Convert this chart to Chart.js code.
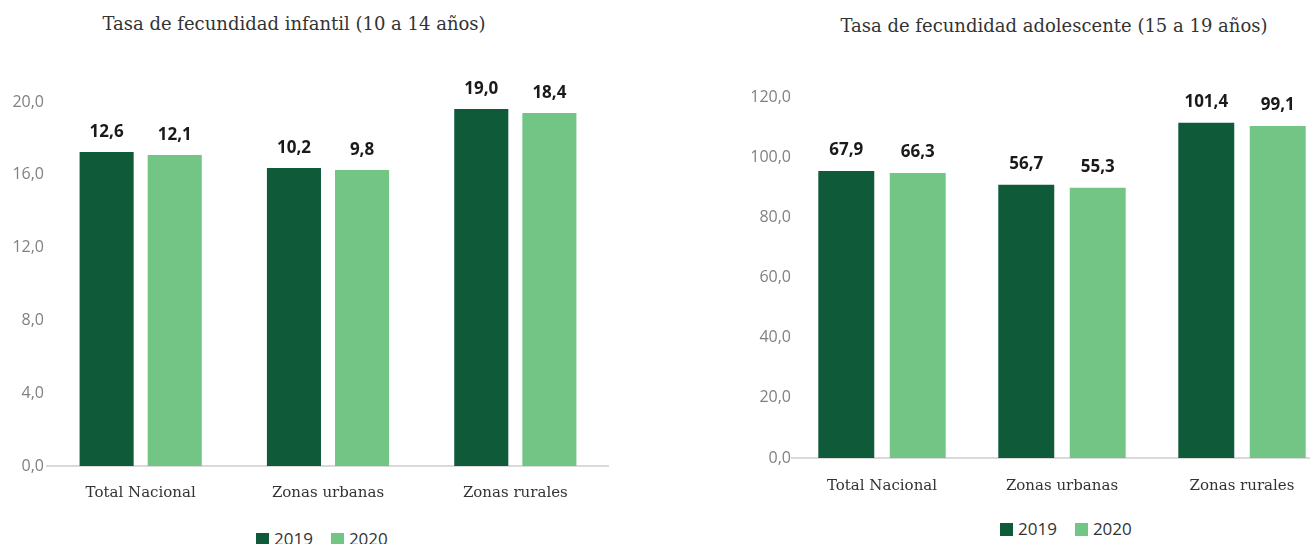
<!DOCTYPE html>
<html lang="es">
<head>
    <meta charset="UTF-8">
    <title>Tasa de fecundidad</title>
    <script src="https://cdn.jsdelivr.net/npm/chart.js"></script>
    <style>
        html, body { margin: 0; padding: 0; background: #fff; overflow: hidden; }
        body { width: 1310px; height: 544px; position: relative; }
        .box { position: absolute; }
        .title {
            position: absolute; width: 600px; text-align: center;
            font-family: "DejaVu Serif", serif; font-size: 18px; color: #333;
        }
        .legend {
            position: absolute; font-family: "Open Sans", sans-serif; font-size: 17px; color: #333;
            white-space: nowrap;
        }
        .legend span.sq { display: inline-block; width: 13px; height: 13px; margin-right: 5px; vertical-align: -1px; }
        .legend span.item { margin-right: 18px; }
    </style>
</head>
<body>
    <div class="title" style="left:-6px; top:13px;">Tasa de fecundidad infantil (10 a 14 años)</div>
    <div class="title" style="left:754px; top:15px;">Tasa de fecundidad adolescente (15 a 19 años)</div>

    <div class="box" style="left:0; top:0; width:609px; height:506px;"><canvas id="chartInfantil"></canvas></div>
    <div class="box" style="left:740px; top:0; width:592px; height:498px;"><canvas id="chartAdolescente"></canvas></div>

    <div class="legend" id="legendInfantil" style="left:256px; top:527px;"></div>
    <div class="legend" id="legendAdolescente" style="left:1000px; top:517px;"></div>

    <script>
// categorias y series
const categorias = ['Total Nacional', 'Zonas urbanas', 'Zonas rurales'];
const anios = ['2019', '2020'];
const colores = ['#0f5a39', '#73c586'];

// infantil (10 a 14): valores rotulados y altura de barra tal como se ve en la figura
const infantil2019 = [12.6, 10.2, 19.0];
const infantil2020 = [12.1, 9.8, 18.4];
const infantilBarra2019 = [17.25, 16.37, 19.62];
const infantilBarra2020 = [17.09, 16.26, 19.40];
const infantilTicks = { min: 0, max: 20, step: 4 };

// adolescente (15 a 19)
const adolescente2019 = [67.9, 56.7, 101.4];
const adolescente2020 = [66.3, 55.3, 99.1];
const adolescenteBarra2019 = [95.4, 90.8, 111.4];
const adolescenteBarra2020 = [94.7, 89.8, 110.4];
const adolescenteTicks = { min: 0, max: 120, step: 20 };

function fmt(v) {
    return v.toFixed(1).replace('.', ',');
}

// dibuja el valor encima de cada barra
const valueLabels = {
    id: 'valueLabels',
    afterDatasetsDraw(chart, args, opts) {
        const ctx = chart.ctx;
        ctx.save();
        ctx.font = 'bold 17px "Open Sans", sans-serif';
        ctx.fillStyle = '#1a1a1a';
        ctx.textAlign = 'center';
        ctx.textBaseline = 'middle';
        chart.data.datasets.forEach((ds, i) => {
            const meta = chart.getDatasetMeta(i);
            meta.data.forEach((bar, j) => {
                ctx.fillText(fmt(ds.labelValues[j]), bar.x, bar.y - opts.offset);
            });
        });
        ctx.restore();
    }
};

function createChart(canvasId, bars, labelValues, ticks, cfg) {
    const ctx = document.getElementById(canvasId).getContext('2d');
    return new Chart(ctx, {
        type: 'bar',
        data: {
            labels: categorias,
            datasets: anios.map((a, i) => ({
                label: a,
                data: bars[i],
                labelValues: labelValues[i],
                backgroundColor: colores[i],
                borderWidth: 0,
                barPercentage: cfg.barPct,
                categoryPercentage: cfg.catPct
            }))
        },
        plugins: [valueLabels],
        options: {
            responsive: true,
            maintainAspectRatio: false,
            animation: false,
            layout: { padding: { top: cfg.top, right: 0, bottom: 0, left: 0 } },
            plugins: {
                legend: { display: false },
                tooltip: { enabled: false },
                valueLabels: { offset: cfg.labelOffset }
            },
            scales: {
                x: {
                    grid: { display: false, drawTicks: false },
                    border: { display: true, color: '#d9d9d9', width: 2 },
                    ticks: {
                        padding: cfg.xPad,
                        color: '#333',
                        font: { family: '"DejaVu Serif", serif', size: 15 }
                    },
                    afterFit: s => { s.height = 40; }
                },
                y: {
                    min: ticks.min,
                    max: ticks.max,
                    grid: { display: false, drawTicks: false },
                    border: { display: false },
                    ticks: {
                        stepSize: ticks.step,
                        padding: cfg.yPad,
                        color: '#808080',
                        font: { family: '"Open Sans", sans-serif', size: 16 },
                        callback: v => fmt(v)
                    },
                    afterFit: s => { s.width = cfg.yWidth; }
                }
            }
        }
    });
}

function buildLegend(id) {
    document.getElementById(id).innerHTML = anios.map((a, i) =>
        `<span class="item"><span class="sq" style="background:${colores[i]}"></span>${a}</span>`
    ).join('');
}

createChart('chartInfantil',
    [infantilBarra2019, infantilBarra2020],
    [infantil2019, infantil2020],
    infantilTicks,
    { top: 102, yWidth: 47, yPad: 3, xPad: 18, barPct: 0.794, catPct: 0.727, labelOffset: 20 });

createChart('chartAdolescente',
    [adolescenteBarra2019, adolescenteBarra2020],
    [adolescente2019, adolescente2020],
    adolescenteTicks,
    { top: 97, yWidth: 52, yPad: 1, xPad: 19, barPct: 0.783, catPct: 0.794, labelOffset: 21 });

buildLegend('legendInfantil');
buildLegend('legendAdolescente');
    </script>
</body>
</html>
